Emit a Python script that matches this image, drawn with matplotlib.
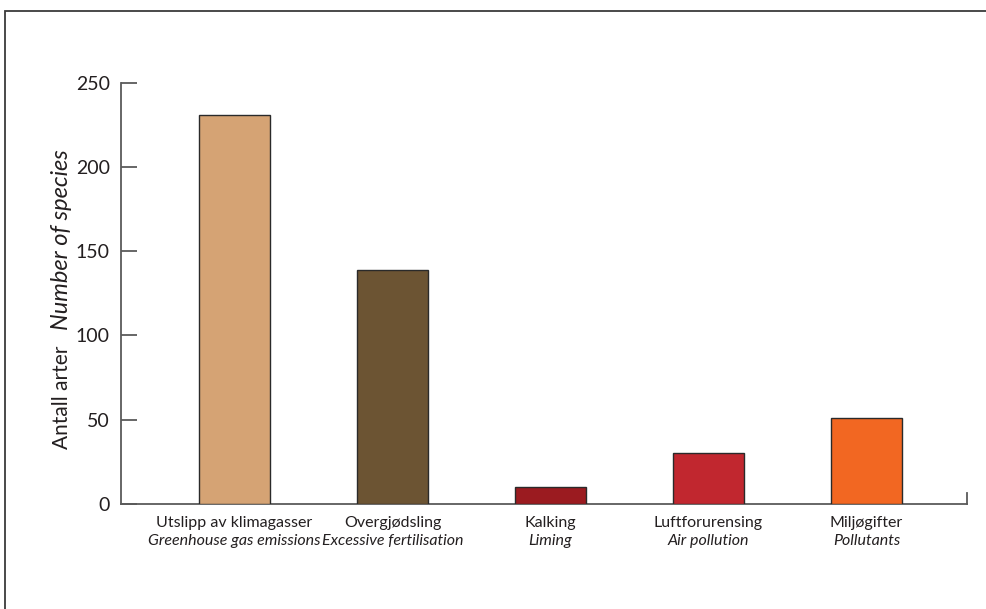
import matplotlib
matplotlib.use("Agg")
import matplotlib.pyplot as plt
from matplotlib.patches import Rectangle
from matplotlib.transforms import blended_transform_factory

categories_no = ["Utslipp av klimagasser", "Overgjødsling", "Kalking", "Luftforurensing", "Miljøgifter"]
categories_en = ["Greenhouse gas emissions", "Excessive fertilisation", "Liming", "Air pollution", "Pollutants"]
values = [231, 139, 10, 30, 51]
colors = ["#D5A374", "#6C5433", "#9B1B20", "#C1272F", "#F26722"]
yticks = [0, 50, 100, 150, 200, 250]

plt.rcParams['font.family'] = ['Lato', 'DejaVu Sans']
txt = "#231F20"
axc = "#5A5A5A"

W, H = 987, 609
fig = plt.figure(figsize=(W / 100, H / 100), dpi=100)

# frame
fig.patches.append(Rectangle((5 / W, -0.1), 1.2, 1.1 - 11 / H, transform=fig.transFigure,
                             fill=False, edgecolor="#3A3A3A", lw=1.3))

left, right = 121 / W, 967 / W
bottom = (H - 504) / H
top = (H - 82.7) / H
ax = fig.add_axes([left, bottom, right - left, top - bottom])

x = list(range(len(values)))
ax.bar(x, values, width=0.45, color=colors, edgecolor="#2A2A2A", linewidth=1.0, zorder=3)
ax.set_xlim(-0.718, 4.636)
ax.set_ylim(0, 250)

for s in ["top", "right"]:
    ax.spines[s].set_visible(False)
for s in ["left", "bottom"]:
    ax.spines[s].set_color(axc)
    ax.spines[s].set_linewidth(1.3)

ax.set_yticks(yticks)
ax.set_yticklabels([str(t) for t in yticks])
ax.tick_params(axis="y", direction="in", length=11.5, width=1.3, color=axc,
               labelsize=14, labelcolor=txt, pad=8)
ax.set_xticks([])

# right end tick
ax.plot([1, 1], [0, 11 / (504 - 82.7)], transform=ax.transAxes, color=axc, lw=1.3, clip_on=False)

trans = blended_transform_factory(ax.transData, ax.transAxes)
for i in x:
    ax.annotate(categories_no[i], xy=(i, 0), xycoords=trans, xytext=(0, -9),
                textcoords="offset points", ha="center", va="top", fontsize=11.5, color=txt)
    ax.annotate(categories_en[i], xy=(i, 0), xycoords=trans, xytext=(0, -21.5),
                textcoords="offset points", ha="center", va="top", fontsize=11.5,
                style="italic", color=txt)

# y label in two styles
fig.text(62 / W, 1 - 397 / H, "Antall arter", rotation=90, ha="center", va="center",
         fontsize=15, color=txt)
fig.text(62 / W, 1 - 240 / H, "Number of species", rotation=90, ha="center", va="center",
         fontsize=17, style="italic", color=txt)

fig.savefig("out.png", dpi=100)
